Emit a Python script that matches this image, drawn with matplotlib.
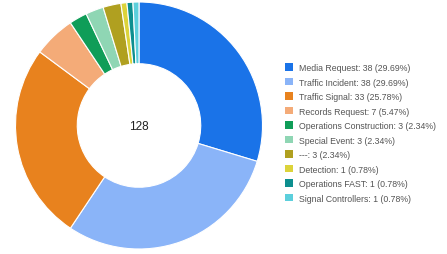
import matplotlib
matplotlib.use("Agg")
import matplotlib.pyplot as plt
from matplotlib.patches import Patch

categories = ["Media Request", "Traffic Incident", "Traffic Signal", "Records Request",
              "Operations Construction", "Special Event", "---", "Detection",
              "Operations FAST", "Signal Controllers"]
values = [38, 38, 33, 7, 3, 3, 3, 1, 1, 1]
colors = ["#1a73e8", "#8ab4f8", "#e8821e", "#f4ab78", "#0f9d58", "#8fd6b4",
          "#b0a020", "#dcd33a", "#0d8f8f", "#5ccfdc"]
total = sum(values)

plt.rcParams['font.family'] = ['Liberation Sans', 'DejaVu Sans']

W, H = 447, 255
fig = plt.figure(figsize=(W / 100, H / 100), dpi=100)
cx, cy, r = 139, 126.5, 123.5
ax = fig.add_axes([(cx - r) / W, (H - cy - r) / H, 2 * r / W, 2 * r / H])
ax.pie(values, colors=colors, startangle=90, counterclock=False, radius=1,
       wedgeprops=dict(width=0.5, edgecolor="white", linewidth=0.8))
ax.set_xlim(-1, 1)
ax.set_ylim(-1, 1)
ax.set_aspect("equal")
ax.axis("off")
ax.text(0, 0, str(total), ha="center", va="center", fontsize=8.5, color="#222222")

labels = [f"{c}: {v} ({v / total * 100:.2f}%)" for c, v in zip(categories, values)]
handles = [Patch(facecolor=col, edgecolor="none") for col in colors]
leg = fig.legend(handles, labels, loc="upper left",
                 bbox_to_anchor=(285 / W, 1 - 64 / H), frameon=False,
                 fontsize=6.3, handlelength=0.95, handleheight=0.95,
                 handletextpad=0.7, labelspacing=0.63, borderpad=0, borderaxespad=0)
for t in leg.get_texts():
    t.set_color("#555555")

fig.savefig("out.png", dpi=100)
